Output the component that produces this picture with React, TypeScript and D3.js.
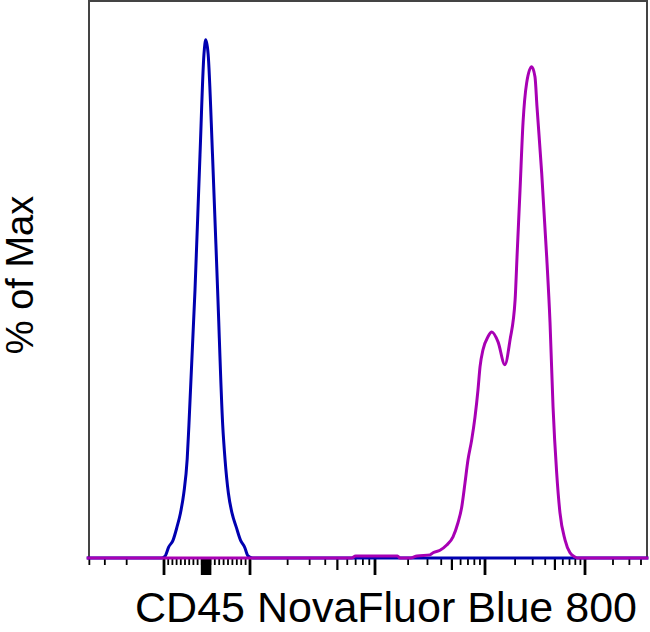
import * as d3 from 'd3'

// blue: negative / unstained population (intensity, % of max)
const blueValues = [-4200, -1050, -971, -890, -786, -690, -610, -529, -448, -407, -262, -143, -48, -5, 48, 148, 264, 380, 432, 509, 593, 686, 786, 877, 955, 1050, 4.8e6]
const bluePct = [0, 0, 0.4, 2.1, 3.4, 6.0, 8.6, 12.5, 19.1, 25.6, 51.7, 77.8, 97.3, 100, 97.3, 77.8, 51.7, 25.6, 19.1, 12.5, 8.6, 6.0, 3.4, 2.1, 0.4, 0, 0]

// magenta: CD45 stained
const magentaValues = [-4200, 6500, 7000, 16000, 16900, 21000, 24100, 31600, 33700, 39000, 44900, 51200, 56800, 61400, 65800, 70000, 75700, 81100, 86300, 90100, 95900, 107000, 117000, 135000, 158000, 178000, 200000, 209000, 224000, 240000, 261000, 293000, 316000, 331000, 369000, 414000, 447000, 479000, 521000, 562000, 631000, 708000, 794000, 850000, 4.8e6]
const magentaPct = [0, 0, 0.4, 0.4, 0, 0, 0.4, 0.6, 1.0, 1.5, 2.5, 4.1, 6.8, 9.8, 14.5, 18.9, 22.8, 27.2, 32.4, 36.9, 40.2, 42.7, 43.6, 41.7, 37.3, 42.1, 49.8, 58.1, 71.0, 84.0, 91.7, 94.8, 92.9, 87.1, 74.3, 58.1, 45.4, 29.2, 16.4, 8.7, 3.5, 1.0, 0.2, 0, 0]

const majorTicks = [-1000, 0, 1000, 10000, 100000, 1000000]
const xLabel = 'CD45 NovaFluor Blue 800'
const yLabel = '% of Max'

// biexponential-like display: linear within ±1000, log beyond
const tform = (v: number) =>
  Math.abs(v) <= 1000 ? v / 1000 : Math.sign(v) * (1 + Math.log10(Math.abs(v) / 1000))
// transformed stops -> pixel offset from plot left
const tStops = [-2, -1, 0, 1, 2, 3, 4, 5]
const pxStops = [-49, 75, 117, 161, 286, 396, 496, 589]

const W = 650
const H = 632
const margin = { top: 1, right: 3, bottom: 74, left: 89 }
const iw = W - margin.left - margin.right
const ih = H - margin.top - margin.bottom

export default function App() {
  const xs = d3.scaleLinear().domain(tStops).range(pxStops)
  const x = (v: number) => xs(tform(v))
  const xMin = xs.invert(0)
  const xMax = xs.invert(iw)
  const y = d3.scaleLinear().domain([0, 107.5]).range([ih, 0])

  const line = d3.line<[number, number]>()
    .x(d => x(d[0]))
    .y(d => y(d[1]))
    .curve(d3.curveMonotoneX)

  const blue = blueValues.map((v, i) => [v, bluePct[i]] as [number, number])
  const magenta = magentaValues.map((v, i) => [v, magentaPct[i]] as [number, number])

  // tick set: 1..9 x 10^k on both sides of zero
  const ticks: { v: number; kind: string }[] = []
  for (let k = 1; k <= 6; k++) {
    for (let m = 1; m <= 9; m++) {
      for (const s of [-1, 1]) {
        const v = s * m * Math.pow(10, k)
        const t = tform(v)
        if (t < xMin || t > xMax) continue
        let kind = 'minor'
        if (majorTicks.includes(v) || Math.abs(v) < 100) kind = 'major'
        else if (m === 5 && k >= 3) kind = 'mid'
        ticks.push({ v, kind })
      }
    }
  }
  ticks.push({ v: 0, kind: 'major' })
  const tickLen: Record<string, number> = { major: 17, mid: 12, minor: 7 }
  const tickW: Record<string, number> = { major: 2.8, mid: 2.2, minor: 1.8 }

  return (
    <div style={{ position: 'absolute', left: 0, top: 0, width: W, height: H, background: '#fff' }}>
      <svg width={W} height={H} style={{ display: 'block' }}>
        <g transform={`translate(${margin.left},${margin.top})`}>
          <rect x={0} y={0} width={iw} height={ih} fill="#fff" stroke="#444" strokeWidth={2} />
          {ticks.map((t, i) => (
            <line key={i} x1={x(t.v)} x2={x(t.v)} y1={ih} y2={ih + tickLen[t.kind]}
              stroke="#000" strokeWidth={tickW[t.kind]} />
          ))}
          <path d={line(blue) || ''} fill="none" stroke="#0000b0" strokeWidth={3} strokeLinejoin="round" />
          <path d={line(magenta) || ''} fill="none" stroke="#a800b4" strokeWidth={3} strokeLinejoin="round" />
        </g>
        <text x={386} y={622} textAnchor="middle" fontFamily="Liberation Sans, Arial, sans-serif"
          fontSize={43} fill="#000">{xLabel}</text>
        <text transform="translate(33,275) rotate(-90)" textAnchor="middle"
          fontFamily="Liberation Sans, Arial, sans-serif" fontSize={38} fill="#000">{yLabel}</text>
      </svg>
    </div>
  )
}
